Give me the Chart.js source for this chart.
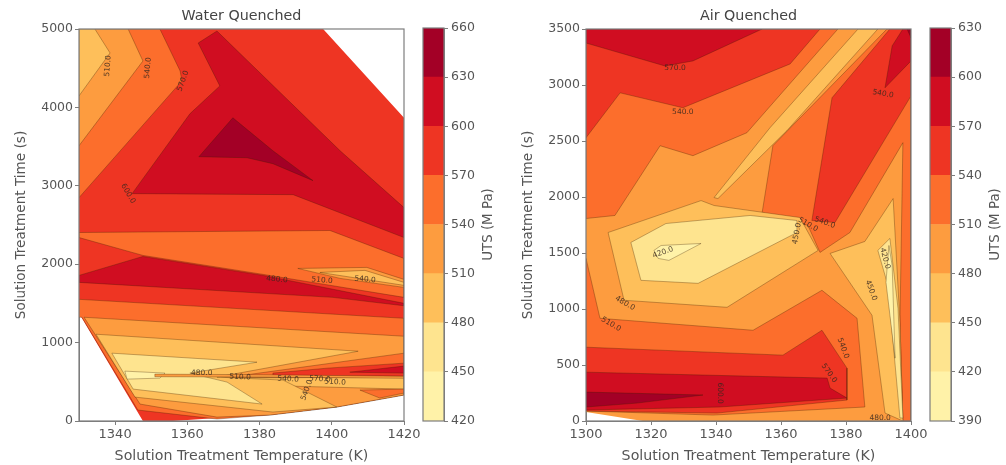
<!DOCTYPE html>
<html><head><meta charset="utf-8">
<style>
html,body{margin:0;padding:0;background:#fff;width:1006px;height:465px;overflow:hidden}
canvas{position:absolute;top:0;filter:blur(0.4px)}
</style>
<script src="https://cdn.jsdelivr.net/npm/chart.js@4/dist/chart.umd.min.js"></script>
</head><body>
<canvas id="waterMap" width="420" height="465" style="left:0"></canvas>
<canvas id="waterBar" width="90" height="465" style="left:420px"></canvas>
<canvas id="airMap" width="417" height="465" style="left:510px"></canvas>
<canvas id="airBar" width="79" height="465" style="left:927px"></canvas>
<script>
// band colours, lowest to highest level
const bandColors = ['#FFF2A8','#FEE48F','#FEBF5A','#FD9C3F','#FC6E2C','#EE3523','#D00D21','#A30026'];
const waterLevels = [420,450,480,510,540,570,600,630,660];
const airLevels = [390,420,450,480,510,540,570,600,630];

// Water Quenched: contour regions as [temperature K, time s]
const wDomain = [[1330,5000],[1397.6,5000],[1420,3867],[1420,331],[1401.4,178],[1382.9,76],[1368.2,38],[1356,0],[1347.7,0],[1330,1374]];
const wUp4 = [[1330,5000],[1352.4,5000],[1358,4465],[1358.5,4338],[1330,2849]];
const wUp3 = [[1330,5000],[1343.6,5000],[1347.7,4592],[1330,3511]];
const wUp2 = [[1330,5000],[1334.4,5000],[1338.6,4694],[1330,4147]];
const wUp6 = [[1368.2,4974],[1363,4821],[1369,4274],[1360.7,3918],[1344.7,2900],[1389.3,2887],[1420,2340],[1420,2722],[1402.3,3447]];
const wUp7 = [[1372.6,3867],[1363.2,3371],[1376.5,3358],[1383.7,3282],[1394.8,3066],[1383.7,3447]];
const wMid4 = [[1330,2340],[1330,2404],[1399.5,2430],[1420,2073],[1420,1577],[1381,1870],[1347.7,2112]];
const wMid6 = [[1330,1857],[1347.7,2099],[1381,1857],[1420,1501],[1420,1470],[1400.3,1577],[1330,1768]];
const wSliver3 = [[1390.6,1946],[1409.7,1959],[1420,1806],[1420,1704],[1402.3,1819]];
const wSliver2 = [[1396.7,1895],[1409.2,1921],[1420,1768],[1420,1730]];
const wFan4 = [[1330,1552],[1420,1310],[1420,331],[1401.4,178],[1382.9,76],[1368.2,25],[1346.3,140],[1330.8,1323],[1330,1323]];
const wFan3 = [[1331.4,1323],[1420,1081],[1420,331],[1401.4,178],[1382.9,76],[1368.2,50],[1346.9,216]];
const wFan2 = [[1334.7,1107],[1407.3,890],[1368.2,560],[1386.5,522],[1401.4,178],[1383.7,114],[1345.5,305]];
const wFan1 = [[1339.1,865],[1379.3,750],[1360.7,611],[1371,496],[1380.7,216],[1345,407]];
const wFan0 = [[1342.7,636],[1353.8,611],[1352.4,547],[1343.3,534]];
const wRight4 = [[1371.8,560],[1420,865],[1420,547]];
const wRight5 = [[1383.7,611],[1398.7,674],[1420,738],[1420,572],[1383.7,572]];
const wRight6 = [[1405,623],[1420,700],[1420,611]];
const wRight2 = [[1366.3,547],[1420,560],[1420,407],[1388.4,445]];
const wRight4b = [[1407.8,394],[1420,407],[1420,356],[1413.3,293]];
const wCentre = [[1351,598],[1381,590],[1420,570],[1420,545],[1381,560],[1351,565]];
const waterLayers = [wDomain,wUp4,wUp3,wUp2,wUp6,wUp7,wMid4,wMid6,wSliver3,wSliver2,wFan4,wFan3,wRight4,wRight5,wRight6,wRight2,wRight4b,wFan2,wFan1,wFan0,wCentre];
const waterBands  = [5,4,3,2,6,7,4,6,3,2,4,3,4,5,6,2,4,2,1,0,3];

const wLabelText = ['510.0','540.0','570.0','600.0','480.0','510.0','540.0','480.0','510.0','540.0','570.0','510.0','540.0'];
const wLabelK = [1338,1349.1,1358.8,1343.6,1384.8,1397.3,1409.2,1364,1374.6,1387.9,1396.7,1400.9,1393.1];
const wLabelS = [4528,4503,4338,2900,1806,1794,1806,611,560,534,534,496,394];
const wLabelAngle = [-85,-85,-70,60,5,5,5,0,3,3,3,3,-70];

// Air Quenched: contour regions as [temperature K, time s]
const aDomain = [[1300,3500],[1400,3500],[1400,0],[1317.5,0],[1300,80]];
const aTop4 = [[1300,3500],[1377.5,3500],[1349.5,2574],[1332.9,2369],[1322.8,2458],[1308.9,1835],[1300,1808]];
const aTop5 = [[1300,3500],[1372,3500],[1362.8,3188],[1329.8,2797],[1310.5,2930],[1300,2529]];
const aTop6 = [[1300,3500],[1354.2,3500],[1332.9,3215],[1324.3,3170],[1300,3375]];
const aStrip2 = [[1383.7,3500],[1389.8,3500],[1361.8,2592],[1340.6,1986],[1339.4,1995],[1356.6,2618]];
const aEast4 = [[1392.6,3500],[1400,3500],[1400,0],[1397.5,0],[1396.6,882],[1397.5,2485],[1381.2,1683],[1372,1505],[1368.3,1746],[1354.2,1861],[1357.5,2458]];
const aEast5 = [[1393.5,3500],[1400,3500],[1400,2903],[1376.6,1772],[1369.5,1790],[1375.7,2886]];
const aEast6 = [[1397.5,3500],[1400,3500],[1400,3215],[1392,2975],[1394.2,3349]];
const aEast7 = [[1398.8,3500],[1400,3500],[1400,3420]];
const aSouth2 = [[1375.1,1496],[1385.8,1603],[1394.5,1986],[1396.6,882],[1397.5,0],[1392,71],[1388,944]];
const aSouth1 = [[1393.5,1630],[1389.8,1523],[1392.9,1211],[1396.6,27],[1397.5,27],[1396,1006]];
const aSouth0 = [[1393.2,1567],[1392.3,1238],[1395.1,561],[1394.2,1389]];
const aLow4 = [[1300,1452],[1304.3,917],[1351.4,810],[1372.6,1167],[1383.4,917],[1385.8,125],[1339.1,53],[1300,89]];
const aLow5 = [[1300,659],[1360.6,588],[1372.6,810],[1380.3,472],[1380.3,187],[1340.3,71],[1300,89]];
const aLow6 = [[1300,436],[1374.2,383],[1375.1,294],[1380.3,205],[1341.2,125],[1300,98]];
const aLow7 = [[1300,258],[1336,232],[1315.7,160],[1300,125]];
const aCore2 = [[1306.8,1683],[1335.4,1968],[1339.4,1924],[1365.8,1817],[1371.4,1523],[1343.4,1015],[1311.7,1078]];
const aCore1 = [[1324.6,1763],[1313.8,1594],[1316.9,1256],[1334.5,1229],[1364.9,1683],[1364.9,1790],[1350.5,1835]];
const aCore0 = [[1320.9,1523],[1323.1,1567],[1335.4,1585],[1325.5,1434],[1322.2,1452]];
const airLayers = [aDomain,aTop4,aTop5,aTop6,aStrip2,aEast4,aEast5,aEast6,aEast7,aSouth2,aSouth1,aSouth0,aLow4,aLow5,aLow6,aLow7,aCore2,aCore1,aCore0];
const airBands  = [3,4,5,6,2,4,5,6,7,2,1,0,4,5,6,7,2,1,0];

const aLabelText = ['570.0','540.0','540.0','420.0','450.0','510.0','540.0','480.0','510.0','420.0','450.0','540.0','570.0','600.0','480.0'];
const aLabelK = [1327.4,1329.8,1391.4,1323.7,1364.9,1368.3,1373.5,1312,1307.7,1392,1387.7,1379.1,1374.8,1341.2,1390.5];
const aLabelS = [3153,2761,2921,1505,1674,1754,1772,1051,864,1452,1167,650,427,249,27];
const aLabelAngle = [0,0,10,-20,-80,30,20,30,30,75,70,70,55,90,0];

const FONT = 'DejaVu Sans';
const INK = '#555555';
const EDGE = '#7d7d7d';
const plainTick = v => String(v);

const framePlugin = {id:'frame', afterDraw(c){
  const a=c.chartArea, x=c.ctx; x.save(); x.strokeStyle=EDGE; x.lineWidth=1.2;
  x.strokeRect(a.left,a.top,a.width,a.height); x.restore();
}};
const contourLabels = {id:'contourLabels', afterDatasetsDraw(c,_,o){
  const x=c.ctx; x.save(); x.font='7.5px "'+FONT+'"'; x.fillStyle='rgba(55,40,30,0.85)'; x.textAlign='center'; x.textBaseline='middle';
  o.text.forEach((t,i)=>{ x.save();
    x.translate(c.scales.x.getPixelForValue(o.k[i]), c.scales.y.getPixelForValue(o.s[i]));
    x.rotate(o.angle[i]*Math.PI/180); x.fillText(t,0,0); x.restore(); });
  x.restore();
}};
const barTitle = {id:'barTitle', afterDraw(c,_,o){
  const a=c.chartArea, x=c.ctx; x.save(); x.translate(a.left+o.dx,(a.top+a.bottom)/2); x.rotate(-Math.PI/2);
  x.font='13.4px "'+FONT+'"'; x.fillStyle=INK; x.textAlign='center'; x.textBaseline='middle';
  x.fillText('UTS (M Pa)',0,0); x.restore();
}};
function noOverhang(s){ s.paddingLeft=0; s.paddingRight=0; s.paddingTop=0; s.paddingBottom=0; }

function contourChart(id,cfg){
  const n=cfg.layers.length;
  new Chart(document.getElementById(id),{
    type:'scatter',
    data:{datasets:cfg.layers.map((pts,i)=>({
      data:pts.concat([pts[0]]).map(p=>({x:p[0],y:p[1]})),
      showLine:true, fill:'shape', backgroundColor:bandColors[cfg.bands[i]],
      borderColor:'rgba(60,30,0,0.45)', borderWidth:i===0?0:0.7, tension:0,
      pointRadius:0, pointHoverRadius:0, order:n-i
    }))},
    options:{responsive:false,animation:false,events:[],
      layout:{padding:{right:cfg.padRight,left:0,top:0,bottom:0}},
      plugins:{legend:{display:false},tooltip:{enabled:false},
        title:{display:true,fullSize:false,text:cfg.title,color:'#444',font:{family:FONT,size:14.3,weight:'normal',lineHeight:1.2},padding:{top:8,bottom:3.84}},
        contourLabels:cfg.labels},
      scales:{
        x:{type:'linear',min:cfg.xMin,max:cfg.xMax,
          afterFit(s){s.height=44;noOverhang(s);},
          grid:{drawOnChartArea:false,drawTicks:true,tickLength:4,color:EDGE},border:{color:EDGE,width:1},
          ticks:{stepSize:20,includeBounds:false,maxRotation:0,autoSkip:false,color:INK,padding:2,font:{family:FONT,size:13},callback:plainTick},
          title:{display:true,text:'Solution Treatment Temperature (K)',color:INK,font:{family:FONT,size:14.2},padding:{top:0,bottom:0}}},
        y:{type:'linear',min:0,max:cfg.yMax,
          afterFit(s){s.width=cfg.yWidth;noOverhang(s);},
          grid:{drawOnChartArea:false,drawTicks:true,tickLength:4,color:EDGE},border:{color:EDGE,width:1},
          ticks:{stepSize:cfg.yStep,autoSkip:false,color:INK,padding:2,font:{family:FONT,size:12.5},callback:plainTick},
          title:{display:true,text:'Solution Treatment Time (s)',color:INK,font:{family:FONT,size:13.6},padding:{top:cfg.yTitlePad,bottom:0}}}
      }},
    plugins:[contourLabels,framePlugin]
  });
}
function colorBar(id,levels,padLeft,yWidth,titleDx){
  new Chart(document.getElementById(id),{
    type:'bar',
    data:{labels:['UTS'],datasets:bandColors.map((col,i)=>({
      data:[[levels[i],levels[i+1]]],backgroundColor:col,borderWidth:0,
      barPercentage:1,categoryPercentage:1,grouped:false
    }))},
    options:{responsive:false,animation:false,events:[],
      layout:{padding:{left:padLeft,top:28,bottom:44,right:0}},
      plugins:{legend:{display:false},tooltip:{enabled:false},title:{display:false},barTitle:{dx:titleDx}},
      scales:{
        x:{display:false},
        y:{position:'right',min:levels[0],max:levels[levels.length-1],
          afterFit(s){s.width=yWidth;noOverhang(s);},
          grid:{drawOnChartArea:false,drawTicks:true,tickLength:4,color:EDGE},border:{color:EDGE,width:1},
          ticks:{stepSize:30,autoSkip:false,color:INK,padding:3,font:{family:FONT,size:12.5},callback:plainTick}}
      }},
    plugins:[framePlugin,barTitle]
  });
}
contourChart('waterMap',{title:'Water Quenched',layers:waterLayers,bands:waterBands,xMin:1330,xMax:1420,yMax:5000,yStep:1000,yWidth:79,padRight:16,yTitlePad:13,
  labels:{text:wLabelText,k:wLabelK,s:wLabelS,angle:wLabelAngle}});
colorBar('waterBar',waterLevels,3,66,66);
contourChart('airMap',{title:'Air Quenched',layers:airLayers,bands:airBands,xMin:1300,xMax:1400,yMax:3500,yStep:500,yWidth:76,padRight:16,yTitlePad:10,
  labels:{text:aLabelText,k:aLabelK,s:aLabelS,angle:aLabelAngle}});
colorBar('airBar',airLevels,3,55,66);
</script>
</body></html>
